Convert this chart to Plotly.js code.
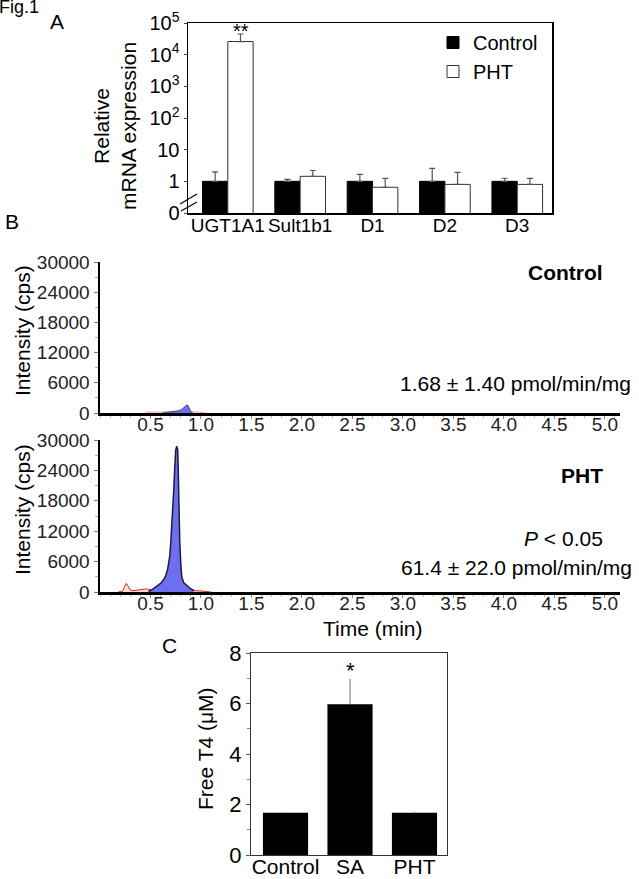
<!DOCTYPE html>
<html>
<head>
<meta charset="utf-8">
<script src="https://cdn.plot.ly/plotly-3.0.1.min.js"></script>
<style>html,body{margin:0;padding:0;background:#fff;}#chart{width:639px;height:879px;}</style>
</head>
<body>
<div id="chart"></div>
<script>
// ---------- Panel A: relative mRNA expression ----------
const geneCategories = ["UGT1A1", "Sult1b1", "D1", "D2", "D3"];
const controlExpr = [1, 1, 1, 1, 1];
const controlExprErr = [1.0, 0.16, 0.65, 1.55, 0.25];
const phtExpr = [26000, 1.44, 0.65, 0.80, 0.80];
const phtExprErr = [19000, 0.76, 0.59, 1.12, 0.44];
const exprTickVals = [0.1, 1, 10, 100, 1000, 10000, 100000];
const exprTickText = ["0", "1", "10", "10<sup>2</sup>", "10<sup>3</sup>", "10<sup>4</sup>", "10<sup>5</sup>"];

// ---------- Panel B: chromatograms ----------
const ctlBlueTime = [0.62, 0.66, 0.70, 0.74, 0.78, 0.81, 0.83, 0.85, 0.86, 0.87, 0.88, 0.89, 0.90, 0.92];
const ctlBlueInt  = [0, 100, 200, 300, 450, 700, 1000, 1400, 1600, 1500, 1100, 600, 250, 0];
const ctlRedTime = [0.45, 0.55, 0.65, 0.75, 0.85, 0.95, 1.05];
const ctlRedInt  = [150, 200, 250, 300, 300, 200, 0];
const phtBlueTime = [0.48, 0.52, 0.56, 0.60, 0.63, 0.65, 0.67, 0.69, 0.70, 0.71, 0.72, 0.73, 0.74, 0.75, 0.76, 0.77, 0.775, 0.78, 0.785, 0.79, 0.80, 0.81, 0.83, 0.86, 0.90, 0.93];
const phtBlueInt  = [100, 500, 1100, 1700, 2400, 3200, 4500, 7000, 9500, 12500, 16000, 20000, 24500, 28000, 28800, 28000, 24000, 18000, 13500, 10000, 5500, 3000, 1800, 1200, 600, 300];
const phtRedTime = [0.18, 0.22, 0.24, 0.26, 0.28, 0.30, 0.33, 0.38, 0.45, 0.50, 0.60, 0.70, 0.80, 0.90, 0.95, 1.00, 1.05, 1.10];
const phtRedInt  = [0, 100, 900, 1700, 1100, 400, 250, 450, 600, 500, 400, 400, 400, 350, 300, 200, 80, 0];
const timeTickVals = [0.5, 1.0, 1.5, 2.0, 2.5, 3.0, 3.5, 4.0, 4.5, 5.0];
const timeTickText = ["0.5", "1.0", "1.5", "2.0", "2.5", "3.0", "3.5", "4.0", "4.5", "5.0"];
const intensityTickVals = [0, 6000, 12000, 18000, 24000, 30000];
const intensityTickText = ["0", "6000", "12000", "18000", "24000", "30000"];

// ---------- Panel C: free T4 ----------
const t4Groups = ["Control", "SA", "PHT"];
const t4Mean = [1.67, 5.97, 1.67];
const t4Err = [0.03, 1.0, 0.05];

// ---------- helpers ----------
const W = 639, H = 879;
const px = v => v / W;
const py = v => 1 - v / H;
const FONT = "Liberation Sans, Arial, Helvetica, sans-serif";

const traces = [
  {type: "bar", name: "Control", x: geneCategories, y: controlExpr, xaxis: "x", yaxis: "y",
   marker: {color: "#000", line: {color: "#000", width: 1}},
   error_y: {type: "data", symmetric: false, array: controlExprErr, arrayminus: controlExprErr.map(() => 0), color: "#555", thickness: 1.2, width: 3}},
  {type: "bar", name: "PHT", x: geneCategories, y: phtExpr, xaxis: "x", yaxis: "y",
   marker: {color: "#fff", line: {color: "#333", width: 1}},
   error_y: {type: "data", symmetric: false, array: phtExprErr, arrayminus: phtExprErr.map(() => 0), color: "#555", thickness: 1.2, width: 3}},

  {type: "scatter", mode: "lines", x: ctlRedTime, y: ctlRedInt, xaxis: "x2", yaxis: "y2", showlegend: false,
   line: {color: "rgba(230,120,120,0.6)", width: 1}, fill: "tozeroy", fillcolor: "rgba(255,190,190,0.35)"},
  {type: "scatter", mode: "lines", x: ctlBlueTime, y: ctlBlueInt, xaxis: "x2", yaxis: "y2", showlegend: false,
   line: {color: "#3a3a7a", width: 1}, fill: "tozeroy", fillcolor: "#6e6ef0"},

  {type: "scatter", mode: "lines", x: phtRedTime, y: phtRedInt, xaxis: "x3", yaxis: "y3", showlegend: false,
   line: {color: "#e02020", width: 1}, fill: "tozeroy", fillcolor: "rgba(255,170,170,0.4)"},
  {type: "scatter", mode: "lines", x: phtBlueTime, y: phtBlueInt, xaxis: "x3", yaxis: "y3", showlegend: false,
   line: {color: "#1c1c3c", width: 1.5}, fill: "tozeroy", fillcolor: "#6e6ef0"},

  {type: "bar", x: t4Groups, y: t4Mean, xaxis: "x4", yaxis: "y4", showlegend: false,
   marker: {color: "#000"},
   error_y: {type: "data", symmetric: false, array: t4Err, arrayminus: t4Err.map(() => 0), color: "#888", thickness: 1.2, width: 0}}
];

const chromX = (dom) => ({
  domain: dom, range: [0, 5.15], showline: true, linecolor: "#000", linewidth: 2.5,
  tickvals: timeTickVals, ticktext: timeTickText, ticks: "outside", ticklen: 3, tickcolor: "#888",
  minor: {dtick: 0.1, ticks: "outside", ticklen: 2, tickcolor: "#bbb"},
  ticklabelstandoff: -10, tickangle: 0,
  tickfont: {size: 19, color: "#222"}, showgrid: false, zeroline: false, fixedrange: true
});
const chromY = (dom, anchor) => ({
  domain: dom, anchor: anchor, range: [0, 30000], showline: true, linecolor: "#000", linewidth: 2.5,
  tickvals: intensityTickVals, ticktext: intensityTickText, ticks: "outside", ticklen: 4, tickcolor: "#777",
  minor: {tickvals: [3000, 9000, 15000, 21000, 27000], ticks: "outside", ticklen: 3, tickcolor: "#aaa"},
  tickfont: {size: 19, color: "#222"}, showgrid: false, zeroline: false, fixedrange: true
});

const layout = {
  width: W, height: H, margin: {l: 0, r: 0, t: 0, b: 0},
  paper_bgcolor: "#fff", plot_bgcolor: "rgba(0,0,0,0)",
  font: {family: FONT, color: "#000", size: 20},
  barmode: "group", bargap: 0.3, bargroupgap: 0,
  showlegend: true,
  legend: {x: px(433), y: py(23), xanchor: "left", yanchor: "top", font: {size: 20}, bgcolor: "rgba(0,0,0,0)", traceorder: "normal", tracegroupgap: 0},
  xaxis: {domain: [px(188), px(552)], anchor: "y", type: "category", range: [-0.55, 4.48], tickangle: 0, ticklabelstandoff: -5,
    showline: true, mirror: true, linecolor: "#000", linewidth: 1.5, ticks: "", tickfont: {size: 19}, showgrid: false, zeroline: false},
  yaxis: {domain: [py(213), py(23)], anchor: "x", type: "log", range: [-1, 5],
    tickvals: exprTickVals, ticktext: exprTickText, ticks: "outside", ticklen: 3,
    showline: true, mirror: true, linecolor: "#000", linewidth: 1.5, tickfont: {size: 20}, showgrid: false, zeroline: false},
  xaxis2: Object.assign(chromX([px(100), px(620)]), {anchor: "y2"}),
  yaxis2: chromY([py(413), py(262)], "x2"),
  xaxis3: Object.assign(chromX([px(100), px(620)]), {anchor: "y3"}),
  yaxis3: chromY([py(592), py(440)], "x3"),
  xaxis4: {domain: [px(251), px(447)], anchor: "y4", type: "category", range: [-0.535, 2.504], tickangle: 0, ticklabelstandoff: -7,
    showline: true, mirror: true, linecolor: "#333", linewidth: 1.2, ticks: "", tickfont: {size: 21}, showgrid: false, zeroline: false},
  yaxis4: {domain: [py(855), py(653)], anchor: "x4", range: [0, 8], dtick: 2, ticks: "outside", ticklen: 4, tickcolor: "#555",
    minor: {dtick: 1, ticks: "outside", ticklen: 3, tickcolor: "#888"},
    showline: true, mirror: true, linecolor: "#333", linewidth: 1.2, tickfont: {size: 22}, showgrid: false, zeroline: false},
  shapes: [
    {type: "line", xref: "paper", yref: "paper", x0: px(180), y0: py(204), x1: px(197), y1: py(194), line: {color: "#000", width: 1.2}},
    {type: "line", xref: "paper", yref: "paper", x0: px(181), y0: py(211), x1: px(197), y1: py(202), line: {color: "#000", width: 1.2}}
  ],
  annotations: [
    {text: "Fig.1", xref: "paper", yref: "paper", x: px(-3), y: py(7), xanchor: "left", yanchor: "middle", showarrow: false, font: {size: 18}},
    {text: "A", xref: "paper", yref: "paper", x: px(57), y: py(22), xanchor: "center", yanchor: "middle", showarrow: false, font: {size: 21}},
    {text: "**", xref: "paper", yref: "paper", x: px(241), y: py(31), xanchor: "center", yanchor: "middle", showarrow: false, font: {size: 20}},
    {text: "Relative<br>mRNA expression", xref: "paper", yref: "paper", x: px(115), y: py(126), xanchor: "center", yanchor: "middle", textangle: -90, showarrow: false, font: {size: 21}},
    {text: "B", xref: "paper", yref: "paper", x: px(12), y: py(222), xanchor: "center", yanchor: "middle", showarrow: false, font: {size: 21}},
    {text: "Intensity (cps)", xref: "paper", yref: "paper", x: px(22), y: py(331), xanchor: "center", yanchor: "middle", textangle: -90, showarrow: false, font: {size: 21}},
    {text: "Intensity (cps)", xref: "paper", yref: "paper", x: px(22), y: py(510), xanchor: "center", yanchor: "middle", textangle: -90, showarrow: false, font: {size: 21}},
    {text: "<b>Control</b>", xref: "paper", yref: "paper", x: px(605), y: py(273), xanchor: "right", yanchor: "middle", showarrow: false, font: {size: 21}},
    {text: "1.68 ± 1.40 pmol/min/mg", xref: "paper", yref: "paper", x: px(633), y: py(383), xanchor: "right", yanchor: "middle", showarrow: false, font: {size: 21}},
    {text: "<b>PHT</b>", xref: "paper", yref: "paper", x: px(605), y: py(475), xanchor: "right", yanchor: "middle", showarrow: false, font: {size: 21}},
    {text: "<i>P</i> < 0.05", xref: "paper", yref: "paper", x: px(605), y: py(538), xanchor: "right", yanchor: "middle", showarrow: false, font: {size: 21}},
    {text: "61.4 ± 22.0 pmol/min/mg", xref: "paper", yref: "paper", x: px(634), y: py(567), xanchor: "right", yanchor: "middle", showarrow: false, font: {size: 21}},
    {text: "Time (min)", xref: "paper", yref: "paper", x: px(373), y: py(628), xanchor: "center", yanchor: "middle", showarrow: false, font: {size: 21}},
    {text: "C", xref: "paper", yref: "paper", x: px(169), y: py(645), xanchor: "center", yanchor: "middle", showarrow: false, font: {size: 21}},
    {text: "Free T4 (μM)", xref: "paper", yref: "paper", x: px(205), y: py(749), xanchor: "center", yanchor: "middle", textangle: -90, showarrow: false, font: {size: 21}},
    {text: "*", xref: "paper", yref: "paper", x: px(350), y: py(670), xanchor: "center", yanchor: "middle", showarrow: false, font: {size: 22}}
  ]
};

Plotly.newPlot("chart", traces, layout, {staticPlot: true, displayModeBar: false});
</script>
</body>
</html>
